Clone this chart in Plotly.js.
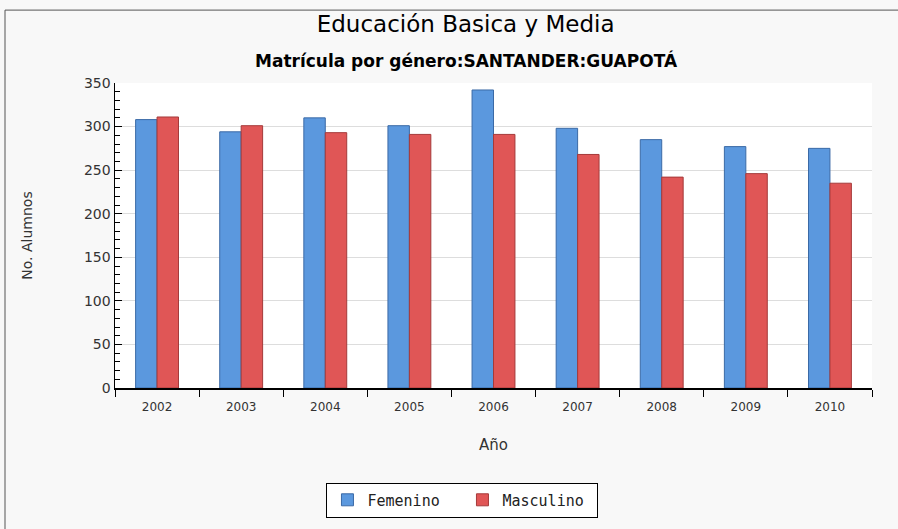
<!DOCTYPE html>
<html>
<head>
<meta charset="utf-8">
<script src="https://cdn.plot.ly/plotly-3.0.1.min.js"></script>
<style>
html,body{margin:0;padding:0;background:#f8f8f8;}
#chart{width:898px;height:529px;}
</style>
</head>
<body>
<div id="chart"></div>
<script>
var years = ['2002','2003','2004','2005','2006','2007','2008','2009','2010'];
var femenino = [308, 294, 310, 301, 342, 298, 285, 277, 275];
var masculino = [311, 301, 293, 291, 291, 268, 242, 246, 235];
var seriesNames = ['Femenino', 'Masculino'];
var mainTitle = 'Educación Basica y Media';
var subTitle = 'Matrícula por género:SANTANDER:GUAPOTÁ';

var traces = [
  {type:'bar', name: seriesNames[0], x: years, y: femenino,
   marker:{color:'#5b98de', line:{color:'#3b6aa6', width:1}}, hoverinfo:'none'},
  {type:'bar', name: seriesNames[1], x: years, y: masculino,
   marker:{color:'#e05656', line:{color:'#a53a3a', width:1}}, hoverinfo:'none'}
];

var layout = {
  width: 898, height: 529,
  paper_bgcolor:'#f8f8f8', plot_bgcolor:'#ffffff',
  margin:{l:115, r:26, t:83, b:141},
  barmode:'group', bargap:0.49, bargroupgap:0,
  font:{family:'DejaVu Sans, Liberation Sans, sans-serif', color:'#333'},
  title:{text: mainTitle, x:0.5185, xref:'container', y:0.955, yref:'container',
         xanchor:'center', yanchor:'middle', font:{size:23, color:'#000'}},
  annotations:[
    {text:'<b>'+subTitle+'</b>', xref:'paper', yref:'paper', x:0.4637, y:1.0754,
     xanchor:'center', yanchor:'middle', showarrow:false, font:{size:17, color:'#000'}}
  ],
  xaxis:{type:'category', showline:true, linecolor:'#000', linewidth:1.5,
         ticks:'outside', tickson:'boundaries', ticklen:7, tickcolor:'#000',
         ticklabelstandoff:7,
         tickfont:{size:12, color:'#333'}, showgrid:false,
         title:{text:'Año', font:{size:15, color:'#333'}, standoff:26}},
  yaxis:{range:[0,350], dtick:50, showline:true, linecolor:'#000', linewidth:1.5,
         ticks:'inside', ticklen:7, tickcolor:'#000',
         minor:{dtick:10, ticks:'inside', ticklen:5, tickcolor:'#000', showgrid:false},
         tickfont:{size:14, color:'#333'}, gridcolor:'#dddddd', gridwidth:1,
         zeroline:false,
         title:{text:'No. Alumnos', font:{size:14, color:'#333'}, standoff:48}},
  showlegend:true,
  legend:{orientation:'h', x:0.459, xanchor:'center', y:-0.31, yanchor:'top',
          bgcolor:'#ffffff', bordercolor:'#000', borderwidth:1,
          font:{family:'DejaVu Sans Mono, monospace', size:15, color:'#222'},
          itemwidth:30, entrywidth:90, traceorder:'normal'},
  shapes:[
    {type:'line', xref:'paper', yref:'paper', x0:-0.1453, x1:-0.1453, y0:1.239, y1:-0.47, line:{color:'#555', width:1}},
    {type:'line', xref:'paper', yref:'paper', x0:-0.1453, x1:1.04, y0:1.239, y1:1.239, line:{color:'#555', width:1}}
  ]
};

Plotly.newPlot('chart', traces, layout, {displayModeBar:false, staticPlot:true});
</script>
</body>
</html>
